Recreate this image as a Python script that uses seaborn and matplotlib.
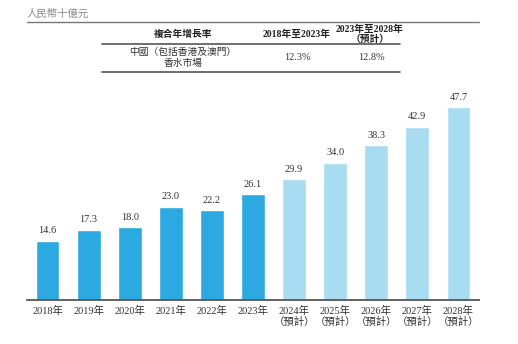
import matplotlib
matplotlib.use("Agg")
import matplotlib.pyplot as plt
import seaborn as sns
import pandas as pd
from matplotlib.lines import Line2D

years = ["2018年", "2019年", "2020年", "2021年", "2022年", "2023年",
         "2024年\n（預計）", "2025年\n（預計）", "2026年\n（預計）", "2027年\n（預計）", "2028年\n（預計）"]
values = [14.6, 17.3, 18.0, 23.0, 22.2, 26.1, 29.9, 34.0, 38.3, 42.9, 47.7]
kind = ["actual"] * 6 + ["forecast"] * 5
unit_label = "人民幣十億元"
cagr_header = "複合年增長率"
period_headers = ["2018年至2023年", "2023年至2028年\n（預計）"]
row_label = "中國（包括香港及澳門）\n香水市場"
cagr_values = ["12.3%", "12.8%"]

sns.set_theme(style="white")
plt.rcParams['font.family'] = ['Liberation Serif', 'Noto Sans CJK TC']

W, H = 518, 344
fig = plt.figure(figsize=(W / 100, H / 100), dpi=100)
ax = fig.add_axes([27 / W, (H - 300) / H, 452 / W, 205 / H])

df = pd.DataFrame({"year": years, "value": values, "kind": kind})
sns.barplot(data=df, x="year", y="value", hue="kind", order=years,
            palette={"actual": "#2CA9E1", "forecast": "#A8DCF0"},
            dodge=False, width=0.58, ax=ax, legend=False, saturation=1)

for i, v in enumerate(values):
    ax.annotate(f"{v:.1f}", (i, v), xytext=(0, 4), textcoords="offset points",
                ha="center", va="bottom", fontsize=7.5, color="#333333")

ax.set_xlim(-0.5, 10.5)
ax.set_ylim(0, 50.7)
ax.set_xlabel("")
ax.set_ylabel("")
ax.set_yticks([])
for s in ["top", "left", "right"]:
    ax.spines[s].set_visible(False)
ax.spines["bottom"].set_color("#555555")
ax.spines["bottom"].set_linewidth(1.3)
ax.tick_params(axis="x", length=0, pad=4, labelsize=7.5, colors="#333333")
for lbl in ax.get_xticklabels():
    lbl.set_linespacing(1.05)


def fx(x):
    return x / W


def fy(y):
    return 1 - y / H


def hline(x0, x1, y, lw=1.2, color="#555555"):
    fig.add_artist(Line2D([fx(x0), fx(x1)], [fy(y), fy(y)], lw=lw, color=color,
                          transform=fig.transFigure))


fig.text(fx(27), fy(14), unit_label, fontsize=7.5, color="#888888", ha="left", va="center")
hline(27, 479, 22, lw=1.0, color="#777777")
fig.text(fx(183), fy(34), cagr_header, fontsize=7, fontweight="bold", ha="center", va="center",
         color="#222222")
fig.text(fx(297), fy(34), period_headers[0], fontsize=7, fontweight="bold", ha="center",
         va="center", color="#222222")
fig.text(fx(370), fy(34.5), period_headers[1], fontsize=7, fontweight="bold", ha="center",
         va="center", color="#222222", linespacing=1.1)
hline(102, 400, 44)
fig.text(fx(183), fy(58), row_label, fontsize=7, ha="center", va="center", color="#333333",
         linespacing=1.2)
fig.text(fx(297), fy(58), cagr_values[0], fontsize=7.5, ha="center", va="center", color="#333333")
fig.text(fx(371), fy(58), cagr_values[1], fontsize=7.5, ha="center", va="center", color="#333333")
hline(102, 400, 72)

fig.savefig("out.png", dpi=100)
